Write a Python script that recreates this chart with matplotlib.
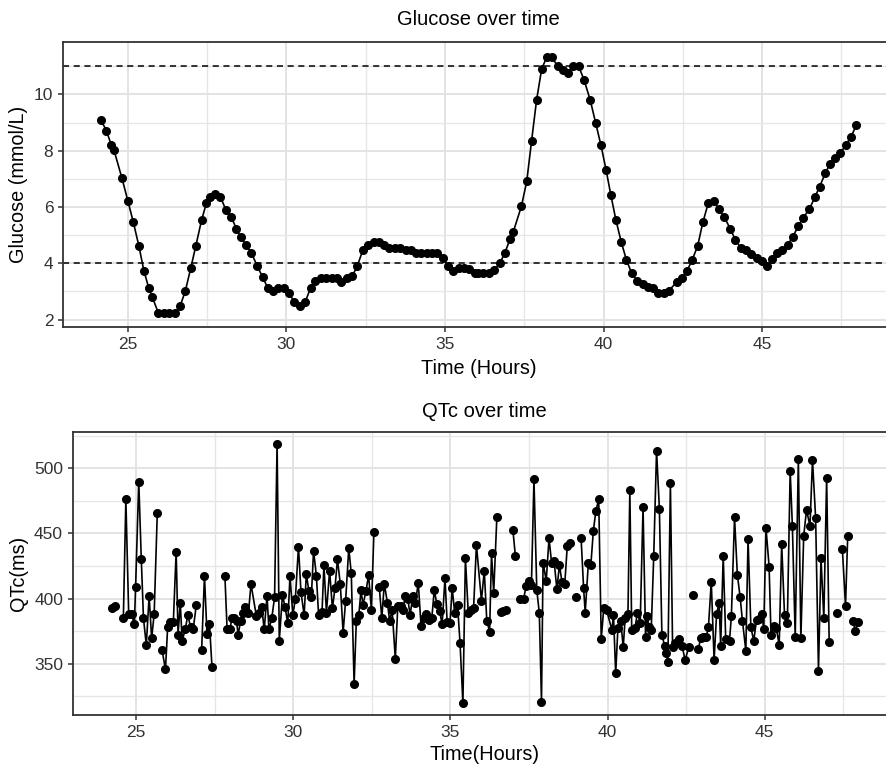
import numpy as np
import matplotlib
matplotlib.use("Agg")
import matplotlib.pyplot as plt
from matplotlib.ticker import MultipleLocator

plt.rcParams['font.family'] = ['Liberation Sans', 'DejaVu Sans']

# glucose readings (hours, mmol/L)
glu_hours = [24.15, 24.33, 24.48, 24.57, 24.82, 25.01, 25.18, 25.35, 25.51, 25.66,
             25.77, 25.97, 26.14, 26.31, 26.48, 26.65, 26.82, 26.99, 27.15, 27.33,
             27.48, 27.61, 27.76, 27.92, 28.09, 28.27, 28.43, 28.56, 28.73, 28.90,
             29.08, 29.25, 29.41, 29.58, 29.75, 29.92, 30.08, 30.25, 30.42, 30.60,
             30.77, 30.92, 31.09, 31.26, 31.43, 31.59, 31.74, 31.91, 32.08, 32.24,
             32.41, 32.58, 32.75, 32.91, 33.08, 33.25, 33.42, 33.59, 33.76, 33.92,
             34.09, 34.26, 34.42, 34.59, 34.76, 34.93, 35.10, 35.26, 35.43, 35.60,
             35.77, 35.94, 36.05, 36.21, 36.38, 36.55, 36.73, 36.89, 37.05, 37.15,
             37.41, 37.58, 37.73, 37.89, 38.05, 38.21, 38.38, 38.55, 38.71, 38.88,
             39.05, 39.22, 39.39, 39.58, 39.75, 39.92, 40.08, 40.23, 40.39, 40.56,
             40.72, 40.89, 41.06, 41.23, 41.40, 41.56, 41.73, 41.90, 42.06, 42.32,
             42.46, 42.63, 42.80, 42.97, 43.13, 43.30, 43.47, 43.64, 43.81, 44.00,
             44.16, 44.33, 44.50, 44.66, 44.83, 45.00, 45.14, 45.30, 45.47, 45.64,
             45.80, 45.97, 46.13, 46.29, 46.49, 46.66, 46.81, 46.99, 47.13, 47.30,
             47.46, 47.63, 47.80, 47.97]
glu_values = [9.10, 8.71, 8.21, 8.01, 7.02, 6.20, 5.45, 4.63, 3.74, 3.14,
              2.82, 2.23, 2.23, 2.23, 2.23, 2.47, 3.03, 3.84, 4.63, 5.54,
              6.13, 6.37, 6.45, 6.37, 5.91, 5.63, 5.22, 4.93, 4.65, 4.37,
              3.91, 3.52, 3.14, 3.02, 3.14, 3.14, 2.94, 2.64, 2.47, 2.64,
              3.14, 3.37, 3.48, 3.48, 3.48, 3.48, 3.35, 3.48, 3.55, 3.91,
              4.46, 4.65, 4.76, 4.76, 4.65, 4.53, 4.53, 4.53, 4.46, 4.46,
              4.37, 4.37, 4.37, 4.37, 4.37, 4.20, 3.91, 3.72, 3.84, 3.84,
              3.79, 3.67, 3.64, 3.64, 3.64, 3.76, 4.00, 4.37, 4.85, 5.10,
              6.02, 6.91, 8.33, 9.80, 10.90, 11.32, 11.32, 10.99, 10.88, 10.76,
              10.99, 10.99, 10.50, 9.80, 9.00, 8.19, 7.32, 6.43, 5.54, 4.75,
              4.13, 3.64, 3.38, 3.25, 3.15, 3.12, 2.94, 2.94, 3.03, 3.35,
              3.48, 3.73, 4.13, 4.63, 5.45, 6.13, 6.20, 5.93, 5.63, 5.22,
              4.82, 4.55, 4.46, 4.32, 4.18, 4.07, 3.91, 4.14, 4.37, 4.46,
              4.65, 4.94, 5.31, 5.61, 5.93, 6.34, 6.72, 7.19, 7.52, 7.73,
              7.90, 8.19, 8.49, 8.90]
glu_limits = [4, 11]

# QTc readings (hours, ms); None = missing reading, breaks the line
qtc_hours = [24.24, 24.34, 24.47, 24.60, 24.68, 24.77, 24.86, 24.95, 24.99, 25.09,
             25.17, 25.24, 25.33, 25.42, 25.50, 25.58, 25.68, 25.75, 25.83, 25.94,
             26.01, 26.09, 26.19, 26.28, 26.34, 26.41, 26.47, 26.57, 26.65, 26.74,
             26.82, 26.92, 27.00, 27.09, 27.18, 27.26, 27.34, 27.42, 27.60, 27.83,
             27.90, 27.99, 28.05, 28.13, 28.20, 28.25, 28.33, 28.39, 28.47, 28.58,
             28.66, 28.83, 28.92, 29.00, 29.08, 29.17, 29.23, 29.32, 29.41, 29.49,
             29.56, 29.66, 29.74, 29.83, 29.90, 29.99, 30.07, 30.17, 30.25, 30.35,
             30.42, 30.50, 30.58, 30.65, 30.74, 30.81, 30.92, 30.98, 31.06, 31.16,
             31.25, 31.33, 31.41, 31.50, 31.59, 31.67, 31.77, 31.85, 31.94, 32.01,
             32.09, 32.16, 32.22, 32.32, 32.40, 32.49, 32.57, 32.66, 32.74, 32.82,
             32.90, 33.00, 33.07, 33.15, 33.25, 33.33, 33.42, 33.50, 33.56, 33.65,
             33.72, 33.81, 33.89, 33.98, 34.07, 34.15, 34.23, 34.32, 34.41, 34.49,
             34.57, 34.66, 34.74, 34.83, 34.90, 34.99, 35.06, 35.14, 35.23, 35.31,
             35.40, 35.48, 35.57, 35.65, 35.74, 35.83, 35.99, 36.08, 36.16, 36.25,
             36.31, 36.38, 36.48, 36.54, 36.60, 36.69, 36.78, 36.90, 36.99, 37.07,
             37.15, 37.22, 37.33, 37.41, 37.50, 37.58, 37.66, 37.75, 37.83, 37.90,
             37.95, 38.05, 38.14, 38.22, 38.30, 38.39, 38.47, 38.55, 38.64, 38.72,
             38.82, 38.90, 39.00, 39.08, 39.16, 39.24, 39.29, 39.39, 39.47, 39.55,
             39.63, 39.72, 39.80, 39.88, 39.97, 40.14, 40.19, 40.26, 40.33, 40.42,
             40.50, 40.56, 40.65, 40.71, 40.77, 40.87, 40.95, 41.04, 41.13, 41.21,
             41.26, 41.32, 41.39, 41.47, 41.56, 41.65, 41.73, 41.82, 41.86, 41.92,
             42.00, 42.07, 42.15, 42.26, 42.37, 42.47, 42.58, 42.64, 42.71, 42.80,
             42.88, 42.97, 43.05, 43.14, 43.21, 43.30, 43.39, 43.47, 43.55, 43.60,
             43.68, 43.76, 43.88, 43.94, 44.04, 44.13, 44.22, 44.29, 44.40, 44.47,
             44.56, 44.65, 44.74, 44.83, 44.91, 44.97, 45.04, 45.14, 45.20, 45.29,
             45.37, 45.46, 45.54, 45.63, 45.72, 45.81, 45.88, 45.97, 46.07, 46.15,
             46.24, 46.33, 46.44, 46.52, 46.62, 46.71, 46.79, 46.88, 46.97, 47.05,
             47.18, 47.31, 47.39, 47.47, 47.57, 47.64, 47.73, 47.82, 47.87, 47.97]
qtc_values = [393.0, 394.3, None, 384.8, 476.2, 388.1, 388.1, 380.2, 409.1, 489.8,
              430.6, 384.8, 364.3, 401.9, 369.4, 388.1, 466.0, None, 360.5, 345.6,
              378.4, 382.2, 382.2, 436.0, 372.0, 396.8, 367.6, 376.3, 387.4, 377.9,
              376.3, 394.8, None, 360.5, 417.3, 372.8, 380.2, 347.2, None, 417.3,
              376.3, 376.3, 384.8, 384.8, 383.0, 372.0, 383.0, 388.6, 393.8, 389.1,
              411.2, 386.6, 389.1, 393.8, 376.3, 401.9, 376.3, 384.8, 400.9, 518.7,
              367.6, 402.7, 393.8, 381.0, 417.3, 387.4, 399.4, 439.8, 404.8, 387.4,
              418.6, 406.0, 401.4, 436.8, 417.3, 387.4, 389.9, 425.8, 389.1, 421.4,
              392.5, 407.8, 430.1, 411.2, 373.8, 398.4, 438.6, 419.4, 334.4, 383.0,
              387.4, 406.6, 395.0, 406.0, 418.1, 391.2, 451.4, None, 409.1, 384.8,
              411.2, 396.8, 382.7, 391.2, 353.8, 394.3, 394.3, 391.2, 402.2, 399.4,
              387.4, 401.9, 396.3, 412.2, 378.9, 384.8, 388.1, 383.5, 384.8, 406.6,
              395.8, 390.4, 380.2, 415.5, 381.7, 381.5, 407.8, 388.6, 395.0, 365.6,
              319.5, 430.9, 389.1, 391.2, 392.5, 441.1, 398.4, 421.4, 383.0, 374.6,
              434.7, 404.5, 462.4, None, 389.9, 390.4, 391.2, None, 452.6, 432.7,
              None, 399.4, 399.4, 409.6, 413.7, 410.4, 491.6, 406.6, 389.1, 320.8,
              427.6, 413.7, 446.2, 427.6, 428.8, 407.1, 425.8, 413.0, 411.2, 440.3,
              442.4, None, 400.9, None, 446.2, 407.8, 389.1, 427.0, 425.8, 452.1,
              467.2, 476.2, 368.7, 392.5, 391.2, 375.8, 387.4, 342.5, 377.0, 383.0,
              362.5, 384.8, 388.1, 483.4, 375.8, 377.0, 388.6, 381.5, 470.0, 370.7,
              386.6, 377.9, 375.8, 432.7, 513.6, 468.8, 372.0, 363.5, 358.4, 351.5,
              488.5, 362.5, 365.6, 368.7, 363.5, 352.8, 362.5, None, 402.7, None,
              361.2, 369.4, 370.7, 370.7, 377.9, 413.0, 352.8, 388.1, 396.8, 363.5,
              432.7, 368.7, 367.6, 386.6, 462.4, 418.1, 400.9, 383.0, 360.0, 445.5,
              377.9, 367.6, 383.5, 384.0, 388.1, 376.3, 454.4, 424.5, 372.0, 378.9,
              377.0, 364.3, 441.9, 387.4, 381.5, 498.0, 455.7, 370.7, 507.0, 369.4,
              448.0, 468.0, 455.7, 506.4, 461.6, 344.6, 430.9, 384.8, 492.8, 366.9,
              None, 389.1, None, 437.8, 394.3, 448.0, None, 383.0, 375.3, 382.2]

glu_x = np.array(glu_hours)
glu_y = np.array(glu_values)
qtc_x = np.array(qtc_hours)
qtc_y = np.array(qtc_values, dtype=float)


def style_axes(ax):
    # theme_bw-ish look
    ax.set_facecolor('white')
    ax.grid(which='major', color='#e3e3e3', linewidth=1.4, zorder=0)
    ax.grid(which='minor', color='#e6e6e6', linewidth=1.0, zorder=0)
    ax.set_axisbelow(True)
    for s in ax.spines.values():
        s.set_color('#333333')
        s.set_linewidth(1.3)
    ax.tick_params(which='major', direction='out', length=3.5, width=1.1,
                   color='#333333', labelcolor='#333333', labelsize=12.5)
    ax.tick_params(which='minor', length=0)
    ax.xaxis.set_major_locator(MultipleLocator(5))
    ax.xaxis.set_minor_locator(MultipleLocator(2.5))


fig = plt.figure(figsize=(8.87, 7.67), dpi=100)

# Glucose
ax1 = fig.add_axes([0.0710, 0.5737, 0.937, 0.3716])
style_axes(ax1)
ax1.plot(glu_x, glu_y, color='black', linewidth=1.2, marker='o', markersize=5.5, zorder=3)
for lim in glu_limits:
    ax1.axhline(lim, color='black', linestyle=(0, (4, 3)), linewidth=1.1, zorder=2)
ax1.set_xlim(22.96, 49.16)
ax1.set_ylim(1.74, 11.86)
ax1.yaxis.set_major_locator(MultipleLocator(2))
ax1.yaxis.set_minor_locator(MultipleLocator(1))
ax1.set_title('Glucose over time', fontsize=14.5, pad=12)
ax1.set_xlabel('Time (Hours)', fontsize=14.3, labelpad=5)
ax1.set_ylabel('Glucose (mmol/L)', fontsize=14.3, labelpad=4)

# QTc
ax2 = fig.add_axes([0.082, 0.0678, 0.929, 0.3686])
style_axes(ax2)
ax2.plot(qtc_x, qtc_y, color='black', linewidth=1.2, marker='o', markersize=5.5, zorder=3)
ax2.set_xlim(22.99, 49.2)
ax2.set_ylim(310.6, 527.6)
ax2.yaxis.set_major_locator(MultipleLocator(50))
ax2.yaxis.set_minor_locator(MultipleLocator(25))
ax2.set_title('QTc over time', fontsize=14.5, pad=11)
ax2.set_xlabel('Time(Hours)', fontsize=14.3, labelpad=4)
ax2.set_ylabel('QTc(ms)', fontsize=14.3, labelpad=4)

fig.savefig('out.png', dpi=100)
